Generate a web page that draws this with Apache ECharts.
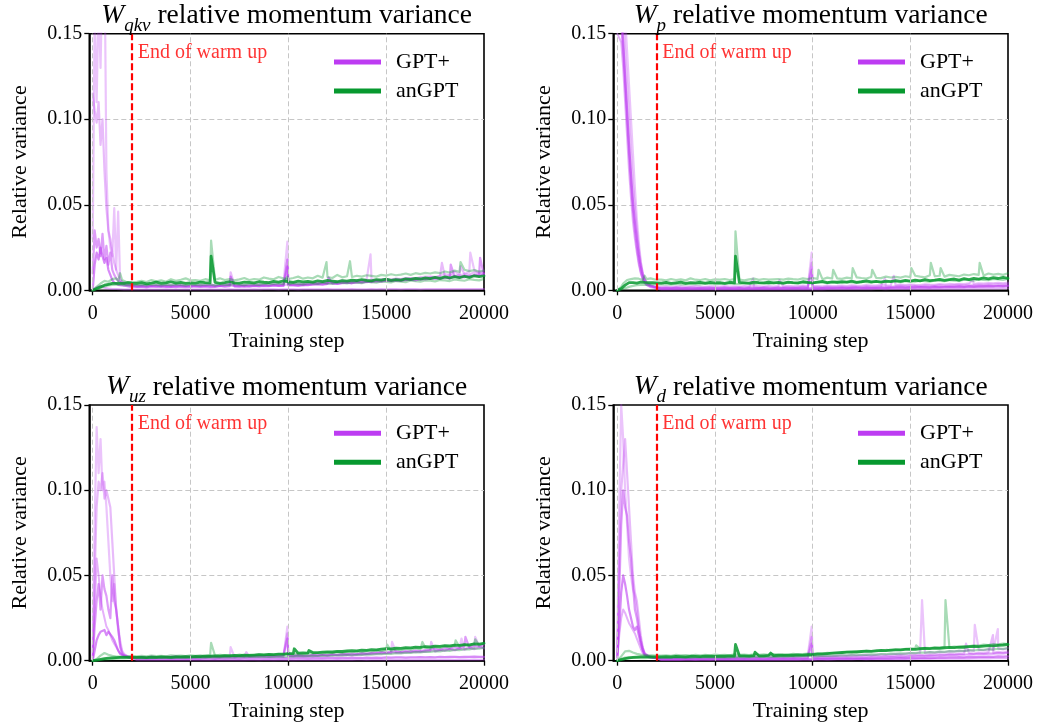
<!DOCTYPE html>
<html>
<head>
<meta charset="utf-8">
<script src="https://cdn.jsdelivr.net/npm/echarts@6.0.0/dist/echarts.min.js"></script>
<style>
  html, body { margin: 0; padding: 0; background: #fff; }
  #chart { width: 1038px; height: 725px; }
</style>
</head>
<body>
<div id="chart"></div>
<script>
// ---------------------------------------------------------------------------
// Relative momentum variance per weight matrix, GPT+ vs anGPT.
// Every run value below is stored in units of 1e-4 (VALUE_UNIT).
// Each run has 93 samples: steps 0..2000 every 100, then 2250..20000 every 250.
// Short isolated spikes are listed separately as [step, value] pairs.
// ---------------------------------------------------------------------------
const VALUE_UNIT = 1e-4;

const warmupSteps = [];
for (let s = 0; s <= 2000; s += 100) warmupSteps.push(s);
const trainSteps = [];
for (let s = 2250; s <= 20000; s += 250) trainSteps.push(s);
const steps = warmupSteps.concat(trainSteps);

const modelNames = ['GPT+', 'anGPT'];
const xTickValues = [0, 5000, 10000, 15000, 20000];
const xGridValues = [0, 5000, 10000, 15000];
const warmupEnd = 2000;
const warmupLabel = 'End of warm up';
const warmupLabelAt = [2300, 0.139];
const yTickStep = 0.05;
const yMax = 0.15;
const xMax = 20000;
const matrixSubscripts = ['qkv', 'p', 'uz', 'd'];
const titleRest = ' relative momentum variance';
const xName = 'Training step';
const yName = 'Relative variance';

// ---- W_qkv ----------------------------------------------------------------
const qkvGPT = [
  [300,1600,1100,1700,1300,1900,2000,700,350,250,200,480,120,460,60,45,40,35,30,30,25,
   30,28,35,25,32,30,27,33,29,31,26,30,
   28,32,30,35,29,27,40,38,33,30,28,34,
   30,36,32,45,38,35,40,42,42,38,40,44,
   45,48,52,47,55,50,58,53,56,60,58,62,
   64,60,62,65,63,68,66,70,72,68,75,80,
   80,78,85,95,90,110,88,95,110,120,100,115],
  [1150,1050,980,1100,850,1000,700,480,350,300,220,160,120,90,60,50,45,40,38,35,32,
   25,27,24,26,29,25,28,24,27,30,26,25,
   27,29,26,31,28,26,30,33,27,29,31,28,
   30,32,29,34,31,33,30,36,35,33,36,38,
   40,42,45,43,48,46,50,52,49,55,53,58,
   60,57,62,65,60,67,64,70,68,72,75,70,
   78,74,82,80,88,85,90,95,92,105,98,100],
  [100,350,250,300,200,330,180,260,150,220,120,90,70,55,45,40,35,32,30,28,27,
   22,24,21,25,23,20,24,22,26,23,21,25,
   23,22,26,24,22,25,27,30,24,26,23,25,
   27,25,28,26,30,27,29,32,31,28,30,33,
   35,38,36,40,42,39,44,46,43,48,50,47,
   52,55,53,58,56,60,58,62,60,65,63,68,
   70,66,72,75,70,78,80,76,85,82,90,88],
  [0,150,220,180,250,200,160,190,120,90,60,45,38,32,30,28,26,25,24,22,22,
   20,22,19,23,21,24,20,22,19,23,21,20,
   24,21,23,20,22,25,21,24,23,22,24,21,
   25,23,26,24,28,25,27,29,29,27,31,30,
   34,36,33,38,40,37,42,45,41,47,44,50,
   48,53,51,56,54,58,55,60,62,58,66,63,
   68,72,66,75,70,80,74,85,78,90,84,95],
  [0,10,20,30,25,20,15,12,10,8,8,7,7,6,6,6,5,5,5,5,5,
   5,5,6,5,5,5,6,5,5,5,6,5,
   5,5,5,6,5,5,5,6,5,5,5,5,
   6,5,6,6,6,5,6,6,6,5,6,6,
   6,6,6,7,6,6,6,6,7,6,6,6,
   7,6,7,6,7,7,6,7,7,7,6,7,
   7,7,7,8,7,7,7,8,7,7,7,8]
];
const qkvGPTSpikes = [
  [[9950,285],[14200,210],[19300,220]],
  [[7050,105],[17850,160],[18800,140]],
  [[9950,180],[18300,150],[19800,190]],
  [[7050,80],[9950,140],[12050,75]],
  []
];
const qkvAN = [
  [0,5,10,15,20,25,30,32,35,38,40,42,40,45,42,44,40,42,45,40,42,
   40,45,38,42,48,40,44,50,42,46,40,44,
   42,48,45,43,47,41,45,50,44,42,48,46,
   44,50,47,45,52,48,55,50,46,53,49,52,
   48,55,51,58,54,50,57,53,60,56,62,58,
   55,62,60,65,58,63,60,67,64,70,66,72,
   68,75,70,78,72,80,74,82,76,85,80,84],
  [0,10,20,30,40,50,55,60,50,55,65,60,70,55,100,60,55,50,52,48,50,
   50,55,48,60,52,58,50,65,55,62,70,58,
   60,55,65,58,62,70,60,66,58,64,72,60,
   66,62,75,68,64,78,70,66,72,80,68,75,
   70,85,74,78,72,90,76,82,78,85,80,88,
   84,80,90,86,94,88,92,98,90,100,95,102,
   98,105,100,110,104,115,108,120,112,118,110,115],
  [0,3,6,10,14,18,22,25,28,30,32,30,33,31,34,32,30,33,31,32,30,
   30,32,29,34,31,28,33,30,35,31,29,34,
   32,30,35,33,29,36,32,31,37,33,30,36,
   35,32,38,34,37,40,36,34,41,38,35,42,
   40,37,44,41,39,46,43,40,48,45,42,50,
   47,44,52,49,46,54,51,48,57,53,50,58,
   56,52,60,58,54,63,59,56,65,61,58,67]
];
const qkvANSpikes = [
  [[6050,200]],
  [[6050,290],[11950,165],[13150,170],[18800,165]],
  [[9950,80]]
];

// ---- W_p ------------------------------------------------------------------
const pGPT = [
  [2200,2100,2000,1800,1600,1400,1200,1000,800,600,420,280,170,100,60,40,30,25,22,20,18,
   15,17,14,18,16,15,19,16,14,17,18,15,
   16,18,15,17,19,16,18,17,15,19,17,16,
   18,20,17,19,16,21,18,20,19,17,21,19,
   20,22,19,23,21,20,24,22,21,25,23,22,
   25,27,24,28,26,25,29,27,26,30,28,27,
   30,32,29,33,31,34,32,35,33,36,34,37],
  [2000,1900,1800,1600,1400,1200,1000,800,620,480,350,240,160,100,65,45,35,28,25,22,20,
   20,22,19,21,23,20,22,24,21,20,23,21,
   22,24,21,23,20,25,22,24,23,21,25,22,
   24,22,26,23,25,27,24,26,25,23,27,25,
   26,28,25,29,27,26,30,28,27,31,29,28,
   30,33,31,34,32,31,35,33,32,36,34,37,
   35,38,36,40,37,41,39,42,40,44,41,45],
  [1700,1650,1550,1400,1200,1000,800,620,470,350,250,170,110,70,45,32,26,22,20,18,15,
   12,13,11,14,12,13,11,12,14,12,11,13,
   12,14,13,11,13,12,14,13,12,15,13,12,
   14,13,15,12,14,16,13,15,14,13,16,14,
   15,17,14,16,18,15,17,16,15,18,16,17,
   18,20,17,19,21,18,20,19,22,20,21,23,
   22,24,21,25,23,26,24,27,25,28,26,29],
  [1800,1750,1650,1450,1250,1050,850,680,520,400,300,210,140,90,60,45,35,28,24,20,18,
   8,9,8,10,9,8,9,10,8,9,10,9,
   9,10,9,8,10,9,10,9,11,10,9,10,
   10,11,10,12,11,10,12,11,10,12,11,12,
   12,13,12,14,13,12,14,13,15,14,13,15,
   15,16,15,17,16,18,17,16,18,17,19,18,
   19,20,19,21,20,22,21,23,22,24,23,25],
  [1500,1500,1450,1300,1100,900,700,540,400,300,220,150,100,65,42,30,22,18,15,14,13,
   4,4,5,4,4,5,4,4,5,4,5,4,
   4,5,4,5,4,5,5,4,5,5,4,5,
   5,5,5,6,5,5,6,5,6,5,6,6,
   6,6,6,7,6,6,7,6,7,7,6,7,
   7,7,8,7,8,8,7,8,8,9,8,9,
   9,9,10,9,10,10,11,10,11,11,12,12]
];
const pGPTSpikes = [
  [[6950,70],[9950,220],[13700,70]],
  [[8300,60],[9950,160],[14150,85],[18200,60]],
  [[9950,120]],
  [],
  []
];
const pAN = [
  [0,5,10,20,30,40,45,50,45,48,42,45,48,44,46,42,45,48,44,46,43,
   42,46,40,44,48,41,45,43,47,42,46,44,
   45,41,47,43,46,44,42,48,45,43,47,44,
   46,42,48,45,43,50,46,44,48,52,45,49,
   47,51,48,53,46,50,55,49,52,48,54,51,
   56,52,58,54,60,55,62,57,59,64,58,62,
   66,60,68,63,70,65,72,67,74,69,76,70],
  [0,10,20,40,50,60,55,65,60,70,62,68,72,60,85,65,62,70,66,64,68,
   62,58,66,60,64,58,70,62,60,66,58,64,
   62,66,60,65,63,58,64,68,61,66,62,64,
   66,62,68,65,63,70,66,72,67,65,74,69,
   70,67,74,70,76,72,69,78,73,71,80,75,
   78,74,82,77,85,80,76,88,82,85,80,90,
   86,82,92,88,95,90,87,98,92,96,90,100],
  [0,2,5,8,12,16,20,24,26,28,30,32,31,33,32,34,33,35,34,33,35,
   34,36,33,37,35,34,38,36,35,39,37,36,
   38,37,40,38,36,41,39,38,42,40,38,43,
   41,39,44,42,40,45,43,41,46,44,42,47,
   45,43,48,46,44,50,47,45,51,49,47,53,
   50,48,54,52,50,56,53,51,58,55,53,60,
   57,55,62,59,57,64,61,59,66,63,61,68]
];
const pANSpikes = [
  [[6050,200]],
  [[6050,345],[10300,120],[11050,120],[12050,130],[13050,120],[15050,130],[16050,160],[16550,130],[18550,160]],
  []
];

// ---- W_uz -----------------------------------------------------------------
const uzGPT = [
  [50,800,1370,1100,1300,1000,1050,900,700,500,350,450,300,200,120,60,40,30,25,22,20,
   18,20,17,21,19,22,20,18,23,21,19,22,
   20,23,21,24,22,20,25,23,21,26,24,22,
   25,23,27,25,28,26,24,29,27,30,28,26,
   31,29,33,30,35,32,34,37,33,36,40,38,
   42,45,41,48,44,50,46,52,48,55,51,58,
   60,56,65,62,70,64,75,68,80,72,85,78],
  [30,500,900,1050,1000,1100,950,1000,1000,900,700,500,300,180,100,50,35,28,24,22,20,
   16,18,15,19,17,16,20,18,17,21,19,18,
   20,22,19,23,21,20,24,22,21,25,23,22,
   24,26,23,27,25,24,28,26,25,29,27,26,
   30,28,32,30,34,31,33,36,34,38,36,40,
   42,40,46,44,48,45,50,48,53,50,55,52,
   58,55,62,58,66,60,70,64,74,68,78,72],
  [10,200,350,450,300,500,420,380,300,250,500,350,300,200,80,40,30,25,22,20,18,
   20,22,19,24,21,20,23,22,25,21,24,22,
   23,25,22,26,24,23,27,25,24,28,26,25,
   27,29,26,30,28,27,32,29,28,33,30,29,
   34,32,36,33,38,35,40,37,42,39,44,41,
   46,48,50,47,52,55,51,57,54,60,56,62,
   65,70,63,75,68,80,72,85,76,90,82,95],
  [0,60,120,150,170,160,180,150,170,160,140,120,90,60,40,30,25,22,20,18,17,
   10,11,10,12,11,10,12,11,10,12,11,11,
   12,11,13,12,11,13,12,12,13,12,14,13,
   13,14,13,15,14,13,15,14,14,16,15,14,
   15,16,15,17,16,15,17,16,18,17,16,18,
   17,18,17,19,18,20,19,18,20,19,21,20,
   21,20,22,21,23,22,21,23,22,24,23,22],
  [20,300,600,500,380,300,250,200,180,150,120,100,80,60,45,35,28,24,20,18,16,
   3,3,3,4,3,3,3,4,3,3,4,3,
   3,4,3,3,4,3,4,3,3,4,3,4,
   4,3,4,4,3,4,4,4,3,4,4,4,
   4,4,5,4,4,5,4,5,4,5,5,4,
   5,5,5,5,6,5,5,6,5,6,5,6,
   6,6,6,6,7,6,6,7,6,7,6,7]
];
const uzGPTSpikes = [
  [[7050,80],[9950,200],[15300,110],[18850,130],[19550,140]],
  [[7850,50],[9950,160],[17300,110]],
  [[9950,130],[19050,140]],
  [],
  []
];
const uzAN = [
  [0,2,4,6,8,10,12,14,15,16,17,18,18,19,19,20,20,21,20,21,21,
   19,20,18,21,20,22,21,20,23,22,24,23,
   25,24,27,26,28,27,29,28,31,30,32,31,
   33,35,34,37,36,39,38,42,41,44,46,45,
   48,47,50,52,51,55,54,57,59,58,62,61,
   65,64,68,70,69,73,72,76,75,79,78,82,
   81,85,84,88,87,91,90,94,93,98,97,102],
  [0,5,10,20,30,40,45,40,35,30,28,25,24,23,24,25,24,26,25,27,26,
   26,28,25,30,27,29,26,31,28,30,27,32,
   29,31,28,33,30,35,31,33,30,36,32,34,
   33,37,34,36,35,39,36,42,38,40,37,44,
   41,45,42,48,44,50,46,52,48,55,50,57,
   54,60,56,63,58,66,61,70,64,73,67,76,
   72,80,75,85,78,90,82,95,86,100,90,105],
  [0,1,2,3,4,5,6,7,8,9,10,11,12,12,13,13,14,14,15,15,15,
   15,16,15,17,16,17,16,18,17,18,17,19,
   18,19,18,20,19,21,20,21,20,22,21,23,
   22,23,22,24,23,25,24,26,25,27,26,28,
   27,29,28,30,29,32,31,33,32,35,34,37,
   36,39,38,41,40,44,43,47,46,50,49,53,
   52,56,55,60,58,64,62,68,66,72,70,76]
];
const uzANSpikes = [
  [[10300,70],[11050,60]],
  [[6050,105],[15050,95],[16850,110],[18550,120],[19550,125]],
  []
];

// ---- W_d ------------------------------------------------------------------
const dGPT = [
  [100,900,1500,1300,1000,800,600,500,420,380,300,200,120,70,40,30,25,22,20,18,17,
   17,19,16,20,18,17,21,19,18,22,20,19,
   21,23,20,24,22,21,25,23,22,26,24,23,
   25,27,24,28,26,25,29,27,26,30,28,27,
   30,32,29,34,31,33,36,32,35,38,34,37,
   40,38,42,45,41,47,44,50,46,52,48,55,
   53,58,55,62,57,65,60,68,63,72,66,75],
  [50,600,1000,1150,1300,1100,900,700,500,400,350,250,150,80,45,35,28,24,22,20,18,
   14,15,13,16,14,15,13,16,15,14,17,15,
   16,15,17,16,18,16,17,19,17,18,16,19,
   18,20,18,21,19,20,22,20,21,23,21,22,
   24,22,25,23,26,24,27,25,28,26,29,27,
   30,32,29,33,31,35,32,36,34,38,35,40,
   38,42,40,45,42,48,44,50,46,52,48,55],
  [30,400,800,1000,900,850,700,600,450,300,250,180,120,70,40,30,25,22,20,18,16,
   10,11,10,12,11,10,12,11,10,12,11,12,
   11,12,11,13,12,11,13,12,12,13,12,14,
   13,14,13,15,14,13,15,14,15,16,15,16,
   16,17,16,18,17,18,17,19,18,20,19,21,
   22,24,23,25,26,28,27,30,29,32,31,34,
   33,36,35,38,37,40,39,42,41,44,43,46],
  [20,200,400,500,450,380,300,250,200,180,200,150,100,60,35,25,22,20,18,16,15,
   6,7,6,7,6,7,7,6,7,7,6,7,
   7,8,7,8,7,8,7,8,8,7,8,8,
   8,9,8,9,8,9,9,8,9,9,10,9,
   10,10,11,10,11,11,12,11,12,12,13,12,
   14,15,14,16,15,17,16,18,17,19,18,20,
   20,21,20,22,21,23,22,24,23,25,24,26],
  [10,150,250,300,280,250,220,200,180,160,130,100,70,45,30,22,20,18,16,15,14,
   4,4,4,5,4,4,5,4,5,4,5,5,
   5,5,5,5,6,5,5,6,5,6,5,6,
   6,6,6,7,6,6,7,6,7,7,6,7,
   7,7,8,7,8,8,7,8,8,8,9,8,
   9,9,10,9,10,10,11,10,11,11,12,11,
   12,12,13,12,13,13,14,13,14,14,15,14]
];
const dGPTSpikes = [
  [[9950,200],[15600,356],[18300,210],[19480,186]],
  [[9950,140],[17850,100],[19230,150]],
  [[9950,100]],
  [],
  []
];
const dAN = [
  [0,3,6,9,12,14,16,18,19,20,21,21,22,22,23,22,23,23,22,23,23,
   23,24,22,25,24,23,26,25,24,27,26,25,
   27,26,28,27,29,28,27,30,29,28,31,30,
   32,31,33,32,34,33,35,36,38,40,42,44,
   46,48,50,52,51,54,56,55,58,60,59,62,
   64,63,66,68,67,70,72,71,74,73,76,78,
   77,80,79,82,84,83,86,88,87,90,92,95],
  [0,10,25,40,55,60,58,52,48,44,40,38,36,35,34,33,32,32,31,30,30,
   30,32,29,34,31,33,30,35,32,34,31,36,
   33,35,32,37,34,36,33,38,35,37,34,39,
   36,38,35,40,37,39,42,40,44,42,46,44,
   48,46,52,50,55,53,58,56,60,58,63,61,
   66,64,70,68,72,70,76,74,78,76,80,78,
   83,81,86,84,90,88,94,92,98,96,100,98],
  [0,5,10,15,18,20,19,18,17,16,16,15,15,15,15,15,16,16,16,17,17,
   17,18,17,19,18,19,18,20,19,20,19,21,
   20,21,20,22,21,22,21,23,22,23,22,24,
   23,25,24,26,25,27,26,28,27,29,28,30,
   30,32,31,33,32,35,34,37,36,39,38,41,
   40,43,42,45,44,48,47,50,49,53,52,56,
   55,58,57,61,60,64,63,67,66,70,69,73]
];
const dANSpikes = [
  [[6050,95],[7050,50],[7850,45]],
  [[15300,90],[16800,356]],
  []
];

// ---------------------------------------------------------------------------
// Styling and layout
// ---------------------------------------------------------------------------
const FONT = '"Liberation Serif", "Times New Roman", serif';
const PURPLE = '#bd3cf2';
const GREEN = '#07992f';
const GRID_GRAY = '#c6c6c6';
const WARM_RED = '#ff0000';

const gptAlpha = [0.3, 0.35, 0.5, 0.6, 0.4];
const gptWidth = [2.2, 2.2, 2.2, 2.2, 2];
const anAlpha = [0.85, 0.35, 0.35];
const anWidth = [2.8, 2.2, 2.2];

const panels = [
  { sub: matrixSubscripts[0], gpt: qkvGPT, gptSpikes: qkvGPTSpikes, an: qkvAN, anSpikes: qkvANSpikes },
  { sub: matrixSubscripts[1], gpt: pGPT,   gptSpikes: pGPTSpikes,   an: pAN,   anSpikes: pANSpikes },
  { sub: matrixSubscripts[2], gpt: uzGPT,  gptSpikes: uzGPTSpikes,  an: uzAN,  anSpikes: uzANSpikes },
  { sub: matrixSubscripts[3], gpt: dGPT,   gptSpikes: dGPTSpikes,   an: dAN,   anSpikes: dANSpikes }
];

const layout = [
  { left: 89.3,  top: 33.7, width: 394.7, height: 256.6, xMin: -175 },
  { left: 613.3, top: 33.7, width: 394.7, height: 256.6, xMin: -205 },
  { left: 89.3,  top: 405,  width: 394.7, height: 255.7, xMin: -175 },
  { left: 613.3, top: 405,  width: 394.7, height: 255.7, xMin: -205 }
];

function toPoints(vals, spikes) {
  const pts = steps.map((s, k) => [s, vals[k] * VALUE_UNIT]);
  (spikes || []).forEach(([s, v]) => pts.push([s, v * VALUE_UNIT]));
  pts.sort((a, b) => a[0] - b[0]);
  return pts;
}

function runSeries(i, name, color, alpha, width, pts, z) {
  return {
    type: 'line', name, xAxisIndex: i, yAxisIndex: i,
    data: pts, showSymbol: false, symbol: 'none', silent: true,
    clip: true, z, color,
    lineStyle: { color, width, opacity: alpha, join: 'round', cap: 'round' },
    emphasis: { disabled: true }
  };
}

const axisText = { fontFamily: FONT, fontSize: 20, color: '#000' };
const nameText = { fontFamily: FONT, fontSize: 22, color: '#000' };
const spine = { color: '#000', width: 1.6 };
const tickLine = { color: '#000', width: 1.3 };
const titleBase = { fontFamily: FONT, fontWeight: 'normal', color: '#000' };

const option = {
  animation: false,
  backgroundColor: '#fff',
  title: [], grid: [], xAxis: [], yAxis: [], legend: [], series: []
};

panels.forEach((p, i) => {
  const L = layout[i];

  option.grid.push({
    left: L.left, top: L.top, width: L.width, height: L.height,
    show: true, borderColor: '#000', borderWidth: 1.6, backgroundColor: 'transparent'
  });

  option.title.push({
    text: `{w|W}{s|${p.sub}}{t|${titleRest}}`,
    left: L.left + L.width / 2, top: L.top - 15,
    textAlign: 'center', textVerticalAlign: 'middle', padding: 0,
    textStyle: {
      fontWeight: 'normal',
      rich: {
        w: { ...titleBase, fontStyle: 'italic', fontSize: 27.5, lineHeight: 30, verticalAlign: 'top' },
        s: { ...titleBase, fontStyle: 'italic', fontSize: 19, lineHeight: 33, verticalAlign: 'bottom' },
        t: { ...titleBase, fontSize: 27.5, lineHeight: 30, verticalAlign: 'top' }
      }
    }
  });

  option.xAxis.push({
    gridIndex: i, type: 'value', min: L.xMin, max: xMax,
    name: xName, nameLocation: 'middle', nameGap: 40, nameTextStyle: nameText,
    axisLine: { show: true, onZero: false, lineStyle: spine },
    axisTick: { show: true, customValues: xTickValues, length: 5, lineStyle: tickLine },
    axisLabel: { show: true, customValues: xTickValues, margin: 13, formatter: v => String(v), ...axisText },
    splitLine: { show: false }
  });

  option.yAxis.push({
    gridIndex: i, type: 'value', min: 0, max: yMax, interval: yTickStep,
    name: yName, nameLocation: 'middle', nameGap: 58, nameTextStyle: nameText,
    axisLine: { show: true, onZero: false, lineStyle: spine },
    axisTick: { show: true, length: 5, lineStyle: tickLine },
    axisLabel: { margin: 7, formatter: v => v.toFixed(2), ...axisText },
    splitLine: { show: true, showMinLine: false, showMaxLine: false,
                 lineStyle: { color: GRID_GRAY, type: [5, 3], width: 1 } }
  });

  option.legend.push({
    left: L.left + L.width - 150, top: L.top + 13.8,
    orient: 'vertical', itemWidth: 47, itemHeight: 5, itemGap: 0,
    selectedMode: false, padding: 0,
    textStyle: { fontFamily: FONT, fontSize: 22, color: '#000', lineHeight: 29, padding: [0, 0, 0, 10] },
    data: [
      { name: modelNames[0], icon: 'rect', itemStyle: { color: PURPLE, opacity: 1, borderWidth: 0 } },
      { name: modelNames[1], icon: 'rect', itemStyle: { color: GREEN, opacity: 1, borderWidth: 0 } }
    ]
  });

  // vertical grid lines
  option.series.push({
    type: 'line', name: 'grid-x-' + i, xAxisIndex: i, yAxisIndex: i, data: [], silent: true, z: 1,
    markLine: {
      silent: true, symbol: ['none', 'none'], label: { show: false }, animation: false,
      emphasis: { disabled: true },
      lineStyle: { color: GRID_GRAY, type: [5, 3], width: 1 },
      data: xGridValues.map(v => ({ xAxis: v }))
    }
  });

  p.gpt.forEach((vals, k) => {
    option.series.push(runSeries(i, modelNames[0], PURPLE, gptAlpha[k], gptWidth[k], toPoints(vals, p.gptSpikes[k]), 2));
  });
  p.an.forEach((vals, k) => {
    option.series.push(runSeries(i, modelNames[1], GREEN, anAlpha[k], anWidth[k], toPoints(vals, p.anSpikes[k]), 3));
  });

  // end of warm-up marker
  option.series.push({
    type: 'line', name: 'warmup-' + i, xAxisIndex: i, yAxisIndex: i, data: [], silent: true, z: 5,
    markLine: {
      silent: true, symbol: ['none', 'none'], label: { show: false }, animation: false,
      emphasis: { disabled: true },
      lineStyle: { color: WARM_RED, type: [7, 3], width: 2.2 },
      data: [{ xAxis: warmupEnd }]
    }
  });
  option.series.push({
    type: 'scatter', name: 'warmup-label-' + i, xAxisIndex: i, yAxisIndex: i,
    data: [warmupLabelAt], symbolSize: 0, silent: true, z: 6,
    label: { show: true, position: 'right', distance: 0, formatter: warmupLabel,
             color: WARM_RED, fontFamily: FONT, fontSize: 20 }
  });
});

const chart = echarts.init(document.getElementById('chart'), null, { renderer: 'canvas' });
chart.setOption(option);
</script>
</body>
</html>
